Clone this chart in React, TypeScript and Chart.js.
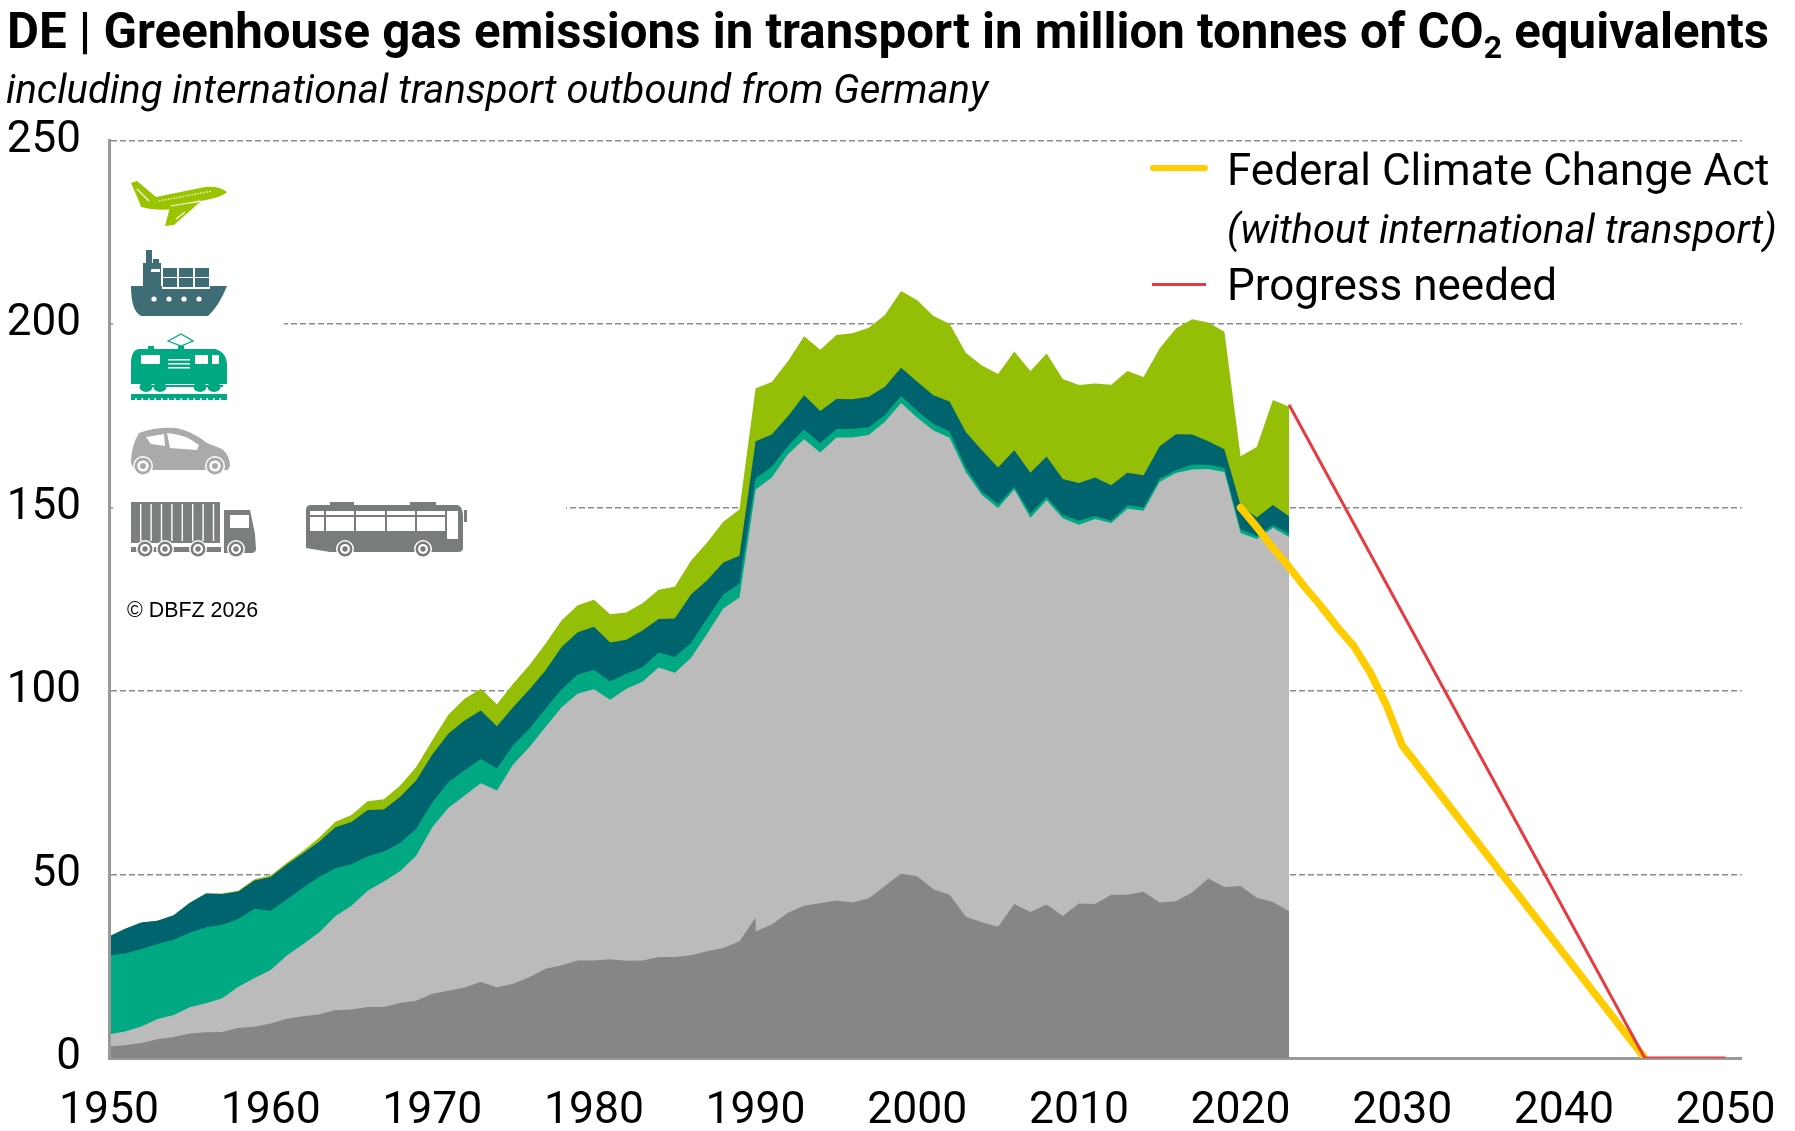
import { useEffect, useRef } from "react";
import { Chart, registerables } from "chart.js";

Chart.register(...registerables);

// the second 1990 entry carries the break in the road freight series
const years = [
   1950, 1951, 1952, 1953, 1954, 1955, 1956, 1957, 1958, 1959, 1960, 1961, 1962, 1963, 1964, 1965,
   1966, 1967, 1968, 1969, 1970, 1971, 1972, 1973, 1974, 1975, 1976, 1977, 1978, 1979, 1980, 1981,
   1982, 1983, 1984, 1985, 1986, 1987, 1988, 1989, 1990, 1990.01, 1991, 1992, 1993, 1994, 1995,
   1996, 1997, 1998, 1999, 2000, 2001, 2002, 2003, 2004, 2005, 2006, 2007, 2008, 2009, 2010, 2011,
   2012, 2013, 2014, 2015, 2016, 2017, 2018, 2019, 2020, 2021, 2022, 2023,
];
const freight = [
   3.1, 3.5, 4.1, 5.1, 5.7, 6.7, 7.0, 7.1, 8.2, 8.5, 9.4, 10.7, 11.4, 11.9, 13, 13.2,
   13.9, 13.9, 15, 15.6, 17.5, 18.3, 19.2, 20.7, 19.3, 20.2, 22, 24.3, 25.3, 26.6, 26.6, 26.9,
   26.5, 26.6, 27.5, 27.5, 28, 29.1, 30, 31.8, 38.3, 34.5, 36.4, 39.6, 41.5, 42.2, 42.9,
   42.4, 43.5, 46.9, 50.2, 49.5, 46, 44.5, 38.5, 37, 35.8, 42, 39.8, 41.8, 38.7, 42.1, 42,
   44.5, 44.5, 45.3, 42.4, 42.7, 45.1, 48.9, 46.6, 46.9, 43.7, 42.5, 40,
];
const cars = [
   3.4, 3.7, 4.5, 5.5, 6.0, 7.1, 7.9, 9.2, 11.2, 13.3, 14.6, 17.2, 19.6, 22.3, 25.6, 28.3,
   31.7, 34.2, 35.9, 39.5, 45.4, 49.9, 52.3, 54.2, 53.6, 59.8, 62.7, 65.9, 70.3, 72.7, 73.9, 70.7,
   74.1, 75.9, 78.9, 77.5, 81, 86.5, 92.5, 93.7, 116.6, 120.4, 121.8, 124.9, 127.1, 122.8, 126.2,
   126.7, 126.3, 126.5, 128.3, 125, 125, 124.5, 121.2, 116.4, 114.1, 112.9, 107.4, 110.2, 108.4, 103.2, 104.9,
   101.3, 105.2, 103.8, 114.6, 116.7, 115.3, 111.6, 113.1, 96.2, 97.7, 102, 102,
];
const rail = [
   21.4, 21.3, 21.1, 20.5, 20.5, 20.3, 20.7, 20.0, 18.5, 18.9, 16.1, 15.3, 15.4, 15.1, 13.1, 11.3,
   9.4, 8.2, 7.7, 7.4, 6.8, 7.0, 6.9, 6.6, 6.0, 5.2, 5.0, 5.0, 4.9, 5.2, 5.3, 5.0,
   4.1, 4.0, 4.1, 4.3, 4.1, 4.2, 3.8, 3.8, 3.0, 3.0, 2.9, 2.3, 2.7, 2.5, 2.3,
   2.3, 2.1, 1.8, 1.9, 1.8, 1.8, 1.7, 1.2, 1.0, 1.0, 0.8, 1.2, 0.9, 0.9, 1.1, 0.8,
   0.7, 0.9, 0.9, 0.9, 0.8, 1.3, 1.2, 1.1, 1.0, 0.8, 0.7, 0.9,
];
const shipping = [
   5.2, 6.7, 7.2, 6.3, 6.7, 8.2, 9.2, 8.4, 7.5, 7.7, 9.2, 9.5, 9.4, 9.6, 11.2, 11.5,
   12.6, 11.4, 12.5, 13.1, 13.0, 13.2, 13.6, 13.2, 11.5, 10.4, 10.7, 10.4, 11.5, 11.5, 11.7, 10.6,
   9.3, 10, 9.1, 10.5, 13.2, 10.4, 8.7, 7.6, 10.2, 10.2, 8.8, 8.1, 9.3, 8.8, 8.2,
   8.1, 8.3, 7.7, 7.7, 8, 7.8, 8.2, 9.7, 11.2, 10, 9.9, 11.1, 11, 9.8, 10.3, 10.5,
   9.6, 8.9, 8.8, 8.8, 9.8, 8.2, 6.4, 5.1, 6.5, 5.1, 5.5, 4.7,
];
const aviation = [
   0, 0, 0, 0, 0, 0, 0, 0.1, 0.2, 0.3, 0.4, 0.5, 0.6, 1.1, 1.5, 1.9,
   2.4, 2.8, 3.1, 3.7, 3.9, 5.2, 5.9, 5.9, 6.0, 6.4, 6.6, 7.3, 7.3, 7.4, 7.4, 7.7,
   7.4, 7.4, 8.0, 8.6, 9.2, 10.3, 11.1, 12.6, 14.4, 14.4, 14.3, 15, 16.1, 16.7, 17.4,
   18, 18.8, 19.6, 20.9, 22.2, 21.6, 21.2, 21.6, 23.1, 25.5, 26.9, 27.7, 28.1, 27.2, 26.7, 25.6,
   27.4, 27.7, 26.8, 26.7, 28.8, 31.4, 32.3, 32, 13.4, 19.2, 28.6, 29.9,
];

const actYears = [2020, 2021, 2022, 2023, 2024, 2025, 2026, 2027, 2028, 2029, 2030, 2045];
const actValues = [150, 144.7, 139, 133.8, 128.2, 123, 117.3, 112.3, 105.2, 96.4, 85.2, 0];

const neededYears = [2023, 2045, 2050];
const neededValues = [178, 0, 0];

const yTicks = [0, 50, 100, 150, 200, 250];

const points = (xs: number[], ys: number[]) => xs.map((x, i) => ({ x, y: ys[i] }));

const area = (label: string, values: number[], color: string) => ({
   label,
   data: points(years, values),
   backgroundColor: color,
   borderWidth: 0,
   pointRadius: 0,
   fill: "origin",
   stack: "emissions",
});

function ring(ctx: CanvasRenderingContext2D, x: number, y: number, color: string, r: number) {
   ctx.fillStyle = "#fff";
   ctx.beginPath();
   ctx.arc(x, y, r + 1.5, 0, Math.PI * 2);
   ctx.fill();
   ctx.fillStyle = color;
   ctx.beginPath();
   ctx.arc(x, y, r, 0, Math.PI * 2);
   ctx.fill();
   ctx.fillStyle = "#fff";
   ctx.beginPath();
   ctx.arc(x, y, r * 0.66, 0, Math.PI * 2);
   ctx.fill();
   ctx.fillStyle = color;
   ctx.beginPath();
   ctx.arc(x, y, r * 0.36, 0, Math.PI * 2);
   ctx.fill();
}

function whiteRects(ctx: CanvasRenderingContext2D, rects: number[][]) {
   ctx.fillStyle = "#fff";
   for (const [x, y, w, h] of rects) ctx.fillRect(x, y, w, h);
}

function drawPlane(ctx: CanvasRenderingContext2D) {
   const c = "#9bc400";
   ctx.fillStyle = c;
   ctx.fill(new Path2D("M131 183 L137 181 L156 197 L205 187 Q220 186 227 192 Q221 198 200 201 L172 209 Q155 211 141 207 L138 199 Z"));
   ctx.fill(new Path2D("M170 207 L200 202 L174 225 L165 226 Z"));
   ctx.strokeStyle = "#fff";
   ctx.lineWidth = 1.2;
   ctx.beginPath();
   ctx.moveTo(137, 189);
   ctx.lineTo(149, 201);
   ctx.moveTo(171, 206);
   ctx.lineTo(200, 201);
   ctx.moveTo(176, 219);
   ctx.lineTo(185, 212);
   ctx.stroke();
   ctx.setLineDash([1.5, 1.5]);
   ctx.beginPath();
   ctx.moveTo(159, 201);
   ctx.lineTo(212, 191);
   ctx.stroke();
   ctx.setLineDash([]);
}

function drawShip(ctx: CanvasRenderingContext2D) {
   const c = "#3e6d75";
   ctx.fillStyle = c;
   ctx.fill(new Path2D("M131 286 L227 286 Q219 306 208 316 L141 316 Q131 311 131 286 Z"));
   ctx.fillRect(143, 263, 18, 24);
   ctx.fillRect(146, 250, 6, 14);
   ctx.fillRect(153, 259, 6, 6);
   whiteRects(ctx, [[151, 269, 9, 3], [162, 267, 48, 22]]);
   ctx.fillStyle = c;
   for (const x of [163, 179, 195]) {
      ctx.fillRect(x, 268, 14, 9);
      ctx.fillRect(x, 278, 14, 9);
   }
   ctx.fillStyle = "#fff";
   for (const x of [154, 169, 184, 199]) {
      ctx.beginPath();
      ctx.arc(x, 299, 2.6, 0, Math.PI * 2);
      ctx.fill();
   }
}

function drawTrain(ctx: CanvasRenderingContext2D) {
   const c = "#00a982";
   ctx.strokeStyle = c;
   ctx.lineWidth = 1.3;
   ctx.stroke(new Path2D("M168 341 L181 334 L193 341 L181 346 Z"));
   ctx.fillStyle = c;
   ctx.fill(new Path2D("M131 364 Q131 350 139 349 L215 349 Q227 352 227 366 L227 384 L131 384 Z"));
   ctx.fillRect(148, 346, 6, 3);
   ctx.fillRect(178, 346, 6, 3);
   ctx.fillRect(140, 385, 83, 2);
   for (const x of [146, 160, 200, 214]) {
      ctx.beginPath();
      ctx.ellipse(x, 387, 6.5, 5, 0, 0, Math.PI * 2);
      ctx.fill();
   }
   whiteRects(ctx, [[141, 355, 19, 9], [195, 355, 13, 9], [212, 355, 7, 9], [168, 359, 22, 1.5], [168, 363, 22, 1.5], [168, 367, 22, 1.5]]);
   ctx.fillStyle = c;
   ctx.fillRect(131, 394, 96, 6);
   ctx.fillStyle = "#fff";
   for (let x = 135; x < 226; x += 6.5) ctx.fillRect(x, 398, 1.6, 2);
}

function drawCar(ctx: CanvasRenderingContext2D) {
   const c = "#aaaaaa";
   ctx.fillStyle = c;
   ctx.fill(new Path2D("M131 463 Q131 446 139 433 Q155 427 176 428 Q192 431 207 443 L222 449 Q230 455 230 466 L228 470 L134 470 Z"));
   ctx.fillStyle = "#fff";
   ctx.fill(new Path2D("M146 437 L164 434 L165 446 L151 444 Z"));
   ctx.fill(new Path2D("M167 433 Q185 434 199 445 L197 450 L170 448 Z"));
   ring(ctx, 143, 466, c, 8.5);
   ring(ctx, 215, 466, c, 8.5);
}

function drawTruck(ctx: CanvasRenderingContext2D) {
   const c = "#7b7f7f";
   ctx.fillStyle = c;
   ctx.fillRect(131, 502, 89, 41);
   ctx.fillRect(131, 547, 90, 5);
   ctx.fill(new Path2D("M224 510 L250 510 L255 534 L256 550 Q255 553 251 553 L224 553 Z"));
   ctx.fillStyle = "#fff";
   for (let x = 140; x < 218; x += 10.4) ctx.fillRect(x, 504, 1.4, 37);
   ctx.fillRect(230, 515, 19, 13);
   for (const x of [145, 165, 198, 236]) ring(ctx, x, 549, c, 7.5);
}

function drawBus(ctx: CanvasRenderingContext2D) {
   const c = "#787c7c";
   ctx.fillStyle = c;
   ctx.fill(new Path2D("M311 505 L457 505 Q462 505 463 515 L463 548 Q463 552 458 552 L330 552 L306 548 L306 510 Q306 505 311 505 Z"));
   ctx.fillRect(330, 502, 24, 4);
   ctx.fillRect(410, 502, 26, 4);
   ctx.fillRect(464, 510, 3, 12);
   whiteRects(ctx, [[310, 511, 14, 4], [326, 511, 28, 4], [356, 511, 29, 4], [387, 511, 28, 4], [417, 511, 28, 4], [447, 511, 11, 28], [310, 517, 14, 14], [326, 517, 28, 14], [356, 517, 29, 14], [387, 517, 28, 14], [417, 517, 28, 14]]);
   ring(ctx, 345, 549, c, 7.5);
   ring(ctx, 423, 549, c, 7.5);
}

const pictograms = {
   id: "pictograms",
   beforeDatasetsDraw(chart: Chart) {
      const ctx = chart.ctx;
      // the icons sit on a white block that interrupts the 200 and 150 grid lines
      ctx.save();
      ctx.fillStyle = "#fff";
      ctx.fillRect(113, 318, 171, 12);
      ctx.fillRect(113, 501, 453, 12);
      drawPlane(ctx);
      drawShip(ctx);
      drawTrain(ctx);
      drawCar(ctx);
      drawTruck(ctx);
      drawBus(ctx);
      ctx.restore();
   },
};

export default function App() {
   const canvasRef = useRef<HTMLCanvasElement | null>(null);

   useEffect(() => {
      if (!canvasRef.current) return;

      const chart = new Chart(canvasRef.current, {
         type: "line",
         data: {
            datasets: [
               {
                  label: "Progress needed",
                  data: points(neededYears, neededValues),
                  borderColor: "#e63c41",
                  borderWidth: 3,
                  pointRadius: 0,
                  fill: false,
                  stack: "needed",
               },
               {
                  label: "Federal Climate Change Act",
                  data: points(actYears, actValues),
                  borderColor: "#ffcc00",
                  borderWidth: 7.5,
                  borderCapStyle: "round",
                  borderJoinStyle: "round",
                  pointRadius: 0,
                  fill: false,
                  stack: "act",
               },
               area("Road freight", freight, "#868686"),
               area("Cars", cars, "#bbbbbb"),
               area("Rail", rail, "#00a982"),
               area("Shipping", shipping, "#00646e"),
               area("Aviation", aviation, "#95be06"),
            ],
         } as any,
         plugins: [pictograms],
         options: {
            responsive: false,
            animation: false,
            layout: { padding: { top: 140.6, right: 44.8, left: 0, bottom: 0 } },
            scales: {
               x: {
                  type: "linear",
                  min: 1950,
                  max: 2051,
                  afterFit: (scale: any) => {
                     scale.height = 73;
                  },
                  border: { color: "#999999", width: 3 },
                  grid: { display: false },
                  ticks: {
                     stepSize: 10,
                     includeBounds: false,
                     autoSkip: false,
                     maxRotation: 0,
                     padding: 19,
                     color: "#000",
                     font: { family: "Roboto", size: 44.5 },
                     callback: (v: any) => String(v),
                  },
               },
               y: {
                  min: yTicks[0],
                  max: yTicks[yTicks.length - 1],
                  stacked: true,
                  afterFit: (scale: any) => {
                     scale.width = 109;
                  },
                  // dash applies to the horizontal grid lines, not the axis line
                  border: { color: "#999999", width: 3, z: 1, dash: [6, 3] },
                  grid: {
                     color: (ctx: any) => (ctx.tick.value === 0 ? "transparent" : "#8c8c8c"),
                     lineWidth: 1.5,
                     drawTicks: false,
                  },
                  ticks: {
                     stepSize: 50,
                     padding: 28,
                     color: "#000",
                     font: { family: "Roboto", size: 44 },
                  },
               },
            },
            plugins: {
               legend: { display: false },
               tooltip: { enabled: false },
            },
         },
      } as any);

      return () => {
         chart.destroy();
      };
   }, []);

   const text = (left: number, top: number, size: number, extra = {}) => ({
      position: "absolute" as const,
      left,
      top,
      fontFamily: "Roboto",
      fontSize: size,
      lineHeight: `${size}px`,
      whiteSpace: "nowrap" as const,
      color: "#000",
      ...extra,
   });

   return (
      <div style={{ position: "absolute", left: 0, top: 0, width: 1795, height: 1131, background: "#fff", overflow: "hidden" }}>
         <canvas ref={canvasRef} width={1795} height={1131} style={{ position: "absolute", left: 0, top: 0 }} />
         <div style={text(7, 6.5, 49.2, { fontWeight: 700 })}>
            DE | Greenhouse gas emissions in transport in million tonnes of CO
            <sub style={{ fontSize: 32, lineHeight: 0, verticalAlign: -10 }}>2</sub> equivalents
         </div>
         <div style={text(6, 70, 40, { fontStyle: "italic" })}>
            including international transport outbound from Germany
         </div>
         <div style={text(1227, 148, 44)}>Federal Climate Change Act</div>
         <div style={text(1227, 209.5, 40, { fontStyle: "italic" })}>(without international transport)</div>
         <div style={text(1227, 263, 44)}>Progress needed</div>
         <div style={{ position: "absolute", left: 1150, top: 165, width: 58, height: 6, borderRadius: 3, background: "#ffcc00" }} />
         <div style={{ position: "absolute", left: 1152, top: 283, width: 54, height: 3, background: "#e63c41" }} />
         <div style={text(127, 600, 21.4, { fontFamily: "Liberation Sans" })}>© DBFZ 2026</div>
      </div>
   );
}
